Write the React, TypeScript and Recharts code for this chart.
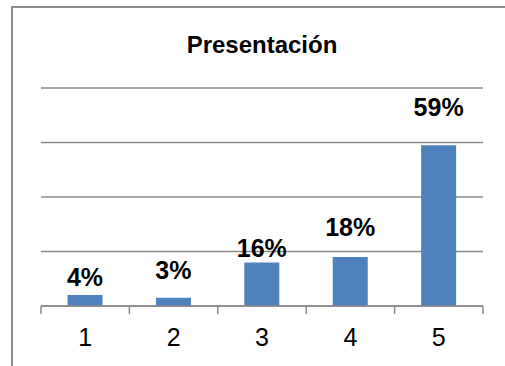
import React from 'react';
import { BarChart, Bar, XAxis, YAxis, CartesianGrid, LabelList } from 'recharts';

const categories = ['1', '2', '3', '4', '5'];
const shares = [4, 3, 16, 18, 59];
const yTicks = [0, 20, 40, 60, 80];

// label offsets above each bar top (px), as placed by hand in the original
const LABEL_LIFT = [9, 19, 5, 21, 29];

const CHART_W = 492;
const CHART_H = 358;
const MARGIN = { top: 80, right: 22, bottom: 0, left: 28 };
const PLOT_W = CHART_W - MARGIN.left - MARGIN.right;
const BAND = PLOT_W / categories.length;

const FONT = '"Liberation Sans", Arial, sans-serif';
const GRID = '#8a8a8a';

const data = categories.map((name, i) => ({ name, value: shares[i] }));

const CategoryTick = (props: any) => {
  const { x, y, payload, index } = props;
  const left = x - BAND / 2;
  const right = x + BAND / 2;
  return (
    <g>
      <line x1={left} y1={y} x2={left} y2={y + 8} stroke={GRID} strokeWidth={1.5} />
      {index === categories.length - 1 && (
        <line x1={right} y1={y} x2={right} y2={y + 8} stroke={GRID} strokeWidth={1.5} />
      )}
      <text x={x} y={y + 40} textAnchor="middle" fill="#000" fontSize={25} fontFamily={FONT}>
        {payload.value}
      </text>
    </g>
  );
};

const ValueLabel = (props: any) => {
  const { x, y, width, value, index } = props;
  return (
    <text
      x={x + width / 2}
      y={y - LABEL_LIFT[index]}
      textAnchor="middle"
      fill="#000"
      fontSize={25}
      fontWeight="bold"
      fontFamily={FONT}
    >
      {`${value}%`}
    </text>
  );
};

export default function App() {
  return (
    <div
      style={{
        position: 'absolute',
        left: 11,
        top: 6,
        width: 494,
        height: 360,
        borderTop: '2px solid #8c8c8c',
        borderLeft: '2px solid #8c8c8c',
        background: '#fff',
        overflow: 'hidden',
      }}
    >
      <div
        style={{
          position: 'absolute',
          left: MARGIN.left,
          width: PLOT_W,
          top: 23,
          textAlign: 'center',
          fontFamily: FONT,
          fontWeight: 'bold',
          fontSize: 24,
          lineHeight: 'normal',
          color: '#000',
        }}
      >
        Presentación
      </div>
      <BarChart width={CHART_W} height={CHART_H} data={data} margin={MARGIN} barCategoryGap="30%">
        <CartesianGrid vertical={false} stroke={GRID} strokeWidth={1.5} />
        <XAxis
          dataKey="name"
          height={60}
          axisLine={{ stroke: GRID, strokeWidth: 1.5 }}
          tickLine={false}
          tickSize={0}
          tickMargin={0}
          interval={0}
          tick={<CategoryTick />}
        />
        <YAxis hide width={0} domain={[0, 80]} ticks={yTicks} />
        <Bar dataKey="value" fill="#4f81bd" isAnimationActive={false}>
          <LabelList dataKey="value" content={<ValueLabel />} />
        </Bar>
      </BarChart>
    </div>
  );
}
